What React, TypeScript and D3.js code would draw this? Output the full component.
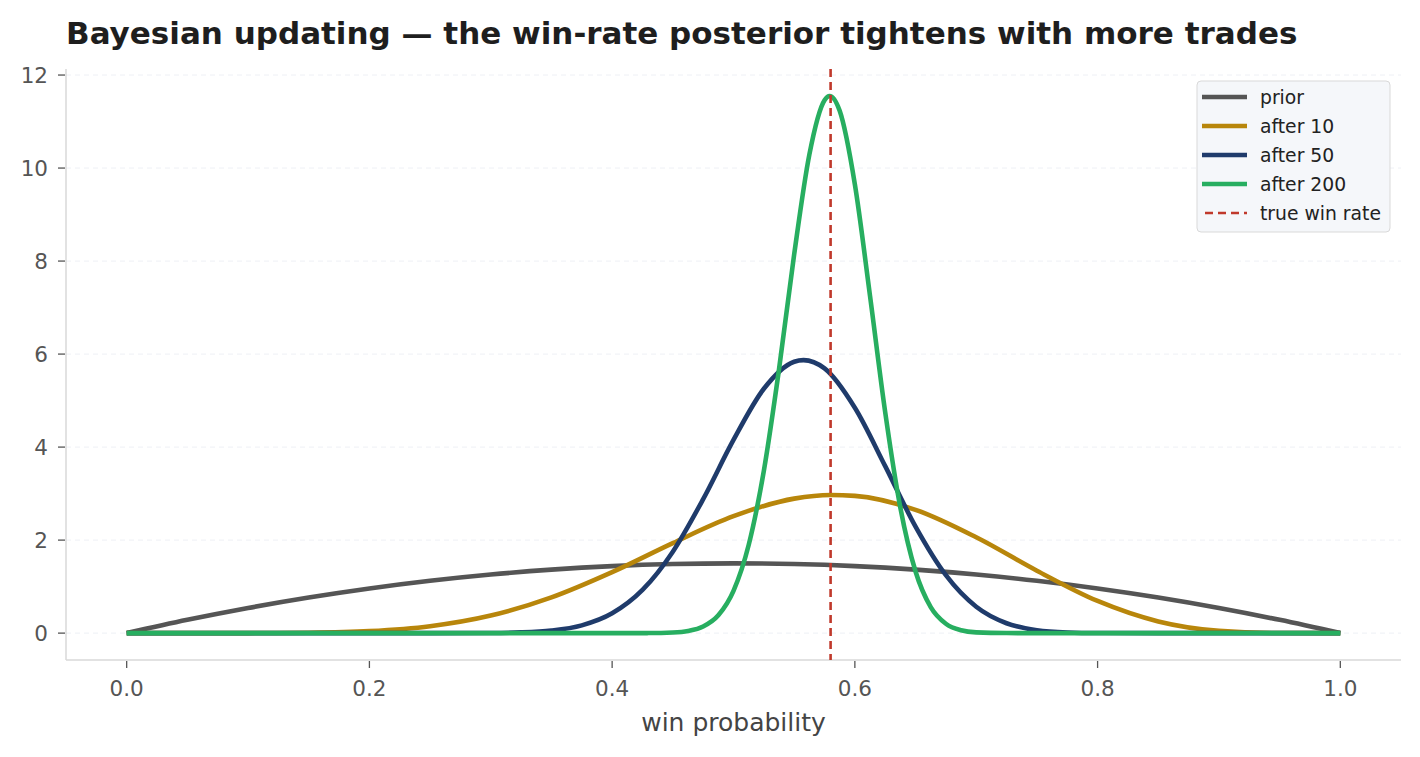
import React from "react";
import * as d3 from "d3";

const title = "Bayesian updating — the win-rate posterior tightens with more trades";
const xLabel = "win probability";
const xTicks = [0, 0.2, 0.4, 0.6, 0.8, 1.0];
const yTicks = [0, 2, 4, 6, 8, 10, 12];
const trueWinRate = 0.58;

const priorX = [0, 0.05, 0.1, 0.15, 0.2, 0.25, 0.3, 0.35, 0.4, 0.45, 0.5, 0.55, 0.6, 0.65, 0.7, 0.75, 0.8, 0.85, 0.9, 0.95, 1.0];
const priorY = [0, 0.285, 0.54, 0.765, 0.96, 1.125, 1.26, 1.365, 1.44, 1.485, 1.5, 1.485, 1.44, 1.365, 1.26, 1.125, 0.96, 0.765, 0.54, 0.285, 0];

const after10X = [0, 0.05, 0.1, 0.15, 0.2, 0.25, 0.3, 0.35, 0.4, 0.45, 0.5, 0.55, 0.58, 0.6, 0.65, 0.7, 0.75, 0.8, 0.85, 0.9, 0.95, 1.0];
const after10Y = [0, 0, 0.0006, 0.008, 0.043, 0.149, 0.378, 0.769, 1.312, 1.936, 2.514, 2.892, 2.97, 2.951, 2.651, 2.06, 1.342, 0.691, 0.251, 0.049, 0.002, 0];

const after50X = [0, 0.2, 0.25, 0.3, 0.325, 0.35, 0.375, 0.4, 0.425, 0.45, 0.475, 0.5, 0.525, 0.55, 0.5577, 0.575, 0.6, 0.625, 0.65, 0.675, 0.7, 0.725, 0.75, 0.775, 0.8, 0.85, 0.9, 1.0];
const after50Y = [0, 0, 0.0001, 0.0035, 0.0155, 0.0558, 0.167, 0.426, 0.928, 1.751, 2.881, 4.154, 5.254, 5.836, 5.87, 5.692, 4.845, 3.59, 2.289, 1.245, 0.567, 0.212, 0.0632, 0.0145, 0.0024, 0, 0, 0];

const after200X = [0, 0.3, 0.4, 0.43, 0.45, 0.4625, 0.475, 0.4875, 0.5, 0.5125, 0.525, 0.5375, 0.55, 0.5625, 0.575, 0.5792, 0.5875, 0.6, 0.6125, 0.625, 0.6375, 0.65, 0.6625, 0.675, 0.6875, 0.7, 0.725, 0.75, 0.8, 1.0];
const after200Y = [0, 0, 0, 0.001, 0.0133, 0.046, 0.142, 0.383, 0.908, 1.894, 3.489, 5.67, 8.146, 10.29, 11.46, 11.55, 11.23, 9.65, 7.25, 4.75, 2.696, 1.324, 0.559, 0.201, 0.061, 0.0158, 0.001, 0, 0, 0];

const seriesNames = ["prior", "after 10", "after 50", "after 200"];
const seriesColors = ["#555555", "#b8860b", "#1f3b6b", "#27ae60"];

export default function App() {
  const W = 1420, H = 757;
  const left = 66, right = 1401, top = 69, bottom = 660;
  const x = d3.scaleLinear().domain([-0.05, 1.05]).range([left, right]);
  const y = d3.scaleLinear().domain([-0.578, 12.13]).range([bottom, top]);
  const line = d3.line<[number, number]>().x(d => x(d[0])).y(d => y(d[1])).curve(d3.curveMonotoneX);
  const series: [number, number][][] = [
    priorX.map((v, i) => [v, priorY[i]]),
    after10X.map((v, i) => [v, after10Y[i]]),
    after50X.map((v, i) => [v, after50Y[i]]),
    after200X.map((v, i) => [v, after200Y[i]]),
  ];
  const font = "DejaVu Sans, sans-serif";
  const legX = 1197, legY = 81;
  const rowH = 29;
  return (
    <svg width={W} height={H} style={{ position: "absolute", left: 0, top: 0, background: "#fff" }} fontFamily={font}>
      <rect x={0} y={0} width={W} height={H} fill="#ffffff" />
      <text x={66} y={44} fontSize={31} fontWeight="bold" fill="#1e1e1e">{title}</text>
      {yTicks.map(t => (
        <line key={"g" + t} x1={left} x2={right} y1={y(t)} y2={y(t)} stroke="#eef0f5" strokeWidth={1} strokeDasharray="5,4" />
      ))}
      {/* spines */}
      <line x1={left} x2={left} y1={top} y2={bottom} stroke="#d9d9d9" strokeWidth={1.5} />
      <line x1={left} x2={right} y1={bottom} y2={bottom} stroke="#d9d9d9" strokeWidth={1.5} />
      {yTicks.map(t => (
        <g key={"yt" + t}>
          <line x1={left - 8} x2={left - 1} y1={y(t)} y2={y(t)} stroke="#555" strokeWidth={1.3} />
          <text x={left - 18} y={y(t)} dy="0.36em" textAnchor="end" fontSize={21.5} fill="#555">{t}</text>
        </g>
      ))}
      {xTicks.map(t => (
        <g key={"xt" + t}>
          <line x1={x(t)} x2={x(t)} y1={bottom + 1} y2={bottom + 8} stroke="#555" strokeWidth={1.3} />
          <text x={x(t)} y={bottom + 36} textAnchor="middle" fontSize={21.5} fill="#555">{t.toFixed(1)}</text>
        </g>
      ))}
      <text x={(left + right) / 2} y={731} textAnchor="middle" fontSize={25} fill="#444">{xLabel}</text>
      {series.map((s, i) => (
        <path key={i} d={line(s) || ""} fill="none" stroke={seriesColors[i]} strokeWidth={4.6} strokeLinejoin="round" strokeLinecap="butt" />
      ))}
      <line x1={x(trueWinRate)} x2={x(trueWinRate)} y1={top} y2={bottom} stroke="#c0392b" strokeWidth={2.6} strokeDasharray="8,5" />
      {/* legend */}
      <rect x={legX} y={legY} width={193} height={151} rx={4} fill="#f5f7fa" stroke="#d9d9d9" strokeWidth={1} />
      {seriesNames.map((n, i) => (
        <g key={"l" + n}>
          <line x1={legX + 5} x2={legX + 50} y1={legY + 16 + i * rowH} y2={legY + 16 + i * rowH} stroke={seriesColors[i]} strokeWidth={4.6} />
          <text x={legX + 63} y={legY + 16 + i * rowH} dy="0.36em" fontSize={18.75} fill="#222">{n}</text>
        </g>
      ))}
      <line x1={legX + 8} x2={legX + 50} y1={legY + 16 + 4 * rowH} y2={legY + 16 + 4 * rowH} stroke="#c0392b" strokeWidth={2.6} strokeDasharray="8,5" />
      <text x={legX + 63} y={legY + 16 + 4 * rowH} dy="0.36em" fontSize={18.75} fill="#222">true win rate</text>
    </svg>
  );
}
